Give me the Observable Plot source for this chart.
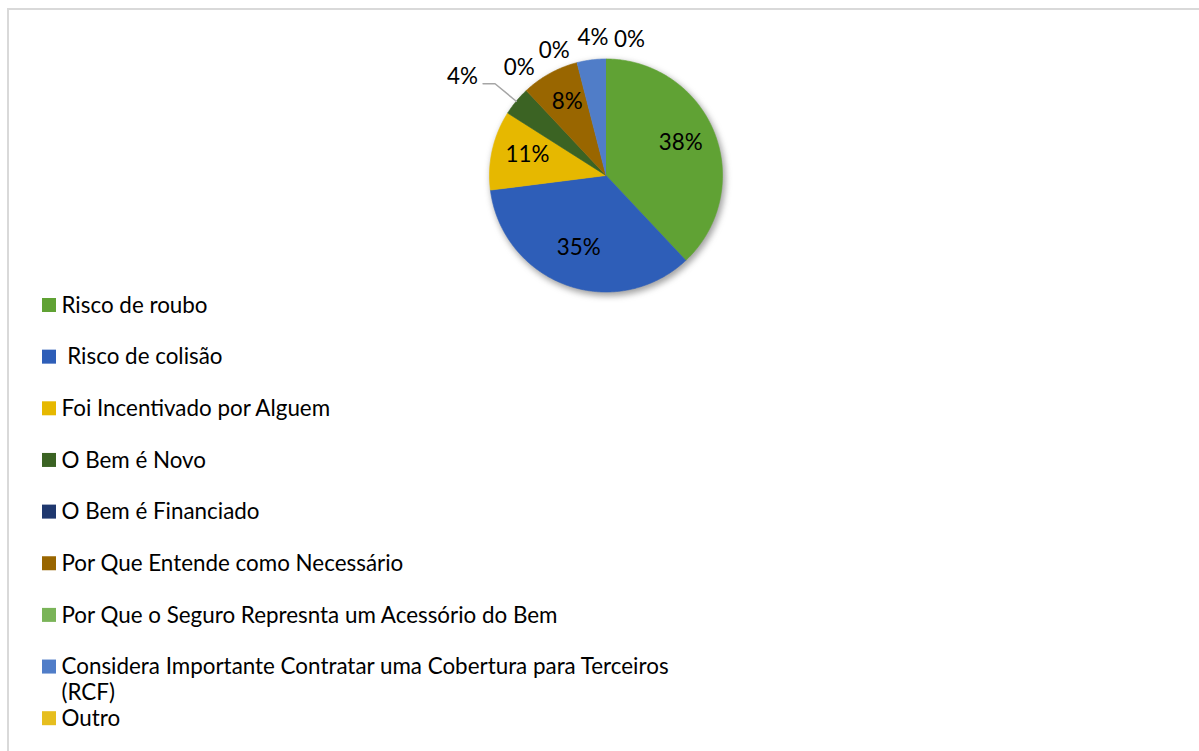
<!DOCTYPE html>
<html><head><meta charset="utf-8">
<script src="https://cdn.jsdelivr.net/npm/d3@7"></script>
<script src="https://cdn.jsdelivr.net/npm/@observablehq/plot@0.6"></script>
<style>
body{margin:0;background:#fff;}
svg text{white-space:pre;}
g[aria-description="pie-shadow"]{filter:blur(3px);}
</style></head><body><div id="chart"></div>
<script>
// ---- data ----
const categories = [
  "Risco de roubo",
  " Risco de colisão",
  "Foi Incentivado por Alguem",
  "O Bem é Novo",
  "O Bem é Financiado",
  "Por Que Entende como Necessário",
  "Por Que o Seguro Represnta um Acessório do Bem",
  "Considera Importante Contratar uma Cobertura para Terceiros\n(RCF)",
  "Outro"
];
const values = [38, 35, 11, 4, 0, 8, 0, 4, 0];
const colors = ["#60a234","#2e5eb8","#e6b800","#3b6323","#1f386e","#996600","#7ab458","#507dc8","#e6be1e"];

// ---- layout ----
const W = 1199, H = 751;
const cx = 605.5, cy = 175, R = 116.5;
const insideFrac = 0.69;
// outside labels: index -> [angle nudge (deg), distance]
const outside = {4: [4.3, 138], 6: [-8.1, 135], 7: [1.8, 138.5], 8: [9.8, 137.5]};
const leaderIndex = 3, leaderElbow = 144, leaderRun = 12;
const legendTop = 313, legendStep = 51.65;
const fs = 22.4;

const arcs = d3.pie().sort(null).value(d => d)(values);
const pt = (a, r) => ({x: cx + r * Math.sin(a), y: cy - r * Math.cos(a)});

const slicePts = [];
arcs.forEach((a, i) => {
  const span = a.endAngle - a.startAngle;
  if (span <= 0) return;
  slicePts.push({cat: categories[i], x: cx, y: cy});
  const n = Math.ceil(span / (Math.PI / 360));
  for (let k = 0; k <= n; k++) {
    const p = pt(a.startAngle + span * k / n, R);
    slicePts.push({cat: categories[i], ...p});
  }
});

const insideLabels = [], outsideLabels = [];
arcs.forEach((a, i) => {
  const mid = (a.startAngle + a.endAngle) / 2;
  const txt = values[i] + "%";
  if (i === leaderIndex) return;
  if (outside[i]) {
    const [nudge, dist] = outside[i];
    outsideLabels.push({text: txt, ...pt(mid + nudge * Math.PI / 180, dist)});
  } else {
    insideLabels.push({text: txt, ...pt(mid, R * insideFrac)});
  }
});

const la = arcs[leaderIndex];
const lmid = (la.startAngle + la.endAngle) / 2;
const edge = pt(lmid, R), elbow = pt(lmid, leaderElbow);
const leaderPts = [edge, elbow, {x: elbow.x - leaderRun, y: elbow.y}];
const leaderLabel = [{text: values[leaderIndex] + "%", x: elbow.x - leaderRun - 5, y: elbow.y}];

const legend = categories.map((c, i) => ({cat: c, base: legendTop + i * legendStep}));

const chart = Plot.plot({
  width: W, height: H, margin: 0,
  x: {domain: [0, W], range: [0, W], axis: null},
  y: {domain: [0, H], range: [0, H], axis: null},
  color: {domain: categories, range: colors},
  style: {fontFamily: "Lato", background: "white"},
  marks: [
    Plot.frame({stroke: "#d9d9d9", strokeWidth: 2, insetLeft: 7.5, insetTop: 8.5, insetRight: -10, insetBottom: -10}),
    Plot.dot([{x: cx + 2, y: cy + 3}], {x: "x", y: "y", r: R + 1, fill: "#555", fillOpacity: 0.55, stroke: "none", ariaDescription: "pie-shadow"}),
    Plot.line(slicePts, {x: "x", y: "y", z: "cat", fill: "cat", stroke: "cat", strokeWidth: 0.6, curve: "linear"}),
    Plot.line(leaderPts, {x: "x", y: "y", stroke: "#a6a6a6", strokeWidth: 1.5}),
    Plot.text(insideLabels, {x: "x", y: "y", dy: -3, text: "text", fontSize: fs, fontFamily: "Lato", fill: "black"}),
    Plot.text(outsideLabels, {x: "x", y: "y", text: "text", fontSize: fs, fontFamily: "Lato", fill: "black"}),
    Plot.text(leaderLabel, {x: "x", y: "y", text: "text", fontSize: fs, fontFamily: "Lato", fill: "black", textAnchor: "end", lineAnchor: "bottom"}),
    Plot.rect(legend, {x1: () => 42, x2: () => 56, y1: d => d.base - 15, y2: d => d.base - 1, fill: "cat"}),
    Plot.text(legend, {x: () => 61, y: d => d.base - 19.5, text: "cat", textAnchor: "start", lineAnchor: "top", lineHeight: 1.17, fontSize: fs, fontFamily: "Lato", fill: "black"})
  ]
});
document.getElementById("chart").appendChild(chart);
</script>
</body></html>
